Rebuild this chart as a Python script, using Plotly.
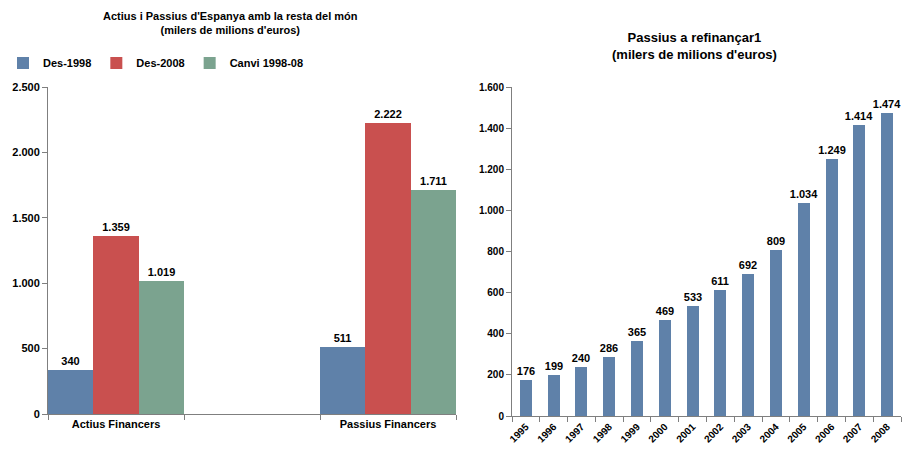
import plotly.graph_objects as go

# ---- Data ----
left_categories = ["Actius Financers", "Passius Financers"]
left_series_names = ["Des-1998", "Des-2008", "Canvi 1998-08"]
des_1998 = [340, 511]
des_2008 = [1359, 2222]
canvi_1998_08 = [1019, 1711]

years = ["1995", "1996", "1997", "1998", "1999", "2000", "2001",
         "2002", "2003", "2004", "2005", "2006", "2007", "2008"]
passius_refinancar = [176, 199, 240, 286, 365, 469, 533,
                      611, 692, 809, 1034, 1249, 1414, 1474]

left_title = "Actius i Passius d'Espanya amb la resta del món<br>(milers de milions d'euros)"
right_title = "Passius a refinançar1<br>(milers de milions d'euros)"

# ---- Styles ----
FONT = "Liberation Sans, Arial, sans-serif"
colors = ["#5F81A9", "#C9504F", "#7BA38F"]
axis_color = "#7F7F7F"
label_font = dict(family=FONT, size=11, color="#000", weight="bold")

fig = go.Figure()

# left chart: categories at positions 0 and 2, leaving an empty slot between
left_x = [0, 2]
n_series = len(left_series_names)
for i, (name, vals, col) in enumerate(zip(left_series_names,
                                          [des_1998, des_2008, canvi_1998_08], colors)):
    fig.add_trace(go.Bar(
        x=left_x, y=vals, name=name, marker=dict(color=col, line=dict(width=0)),
        width=1 / n_series, offset=-0.5 + i / n_series,
        texttemplate="%{y:,}", textposition="outside", constraintext="none",
        textfont=label_font, outsidetextfont=label_font,
        cliponaxis=False, xaxis="x", yaxis="y", showlegend=True,
    ))

fig.add_trace(go.Bar(
    x=years, y=passius_refinancar, name="Passius a refinançar",
    marker=dict(color=colors[0], line=dict(width=0)), width=0.43,
    texttemplate="%{y:,}", textposition="outside", constraintext="none",
    textfont=label_font, outsidetextfont=label_font,
    cliponaxis=False, xaxis="x2", yaxis="y2", showlegend=False,
))

W, H = 903, 457
def px_x(p):
    return p / W
def px_y(p):
    return 1 - p / H

tickfont11 = dict(family=FONT, size=11, color="#000", weight="bold")
tickfont10 = dict(family=FONT, size=10, color="#000", weight="bold")

fig.update_layout(
    width=W, height=H,
    margin=dict(l=0, r=0, t=0, b=0),
    paper_bgcolor="white", plot_bgcolor="white",
    separators=",.",
    barmode="group", bargap=0, bargroupgap=0,
    font=dict(family=FONT, size=11, color="#000"),
    xaxis=dict(
        domain=[px_x(48), px_x(456)], range=[-0.5, 2.5], automargin=False,
        tickvals=left_x, ticktext=left_categories, ticks="",
        tickfont=tickfont11, showline=True, linecolor=axis_color, linewidth=1,
        showgrid=False, zeroline=False, anchor="y",
        minor=dict(tickvals=[-0.5, 0.5, 1.5, 2.5], ticks="outside", ticklen=5,
                   tickcolor=axis_color, showgrid=False),
    ),
    yaxis=dict(
        domain=[px_y(414), px_y(87)], range=[0, 2500], dtick=500, automargin=False,
        tickformat=",", ticks="outside", ticklen=5, tickcolor=axis_color,
        tickfont=tickfont11, showline=True, linecolor=axis_color, linewidth=1,
        showgrid=False, zeroline=False, anchor="x",
    ),
    xaxis2=dict(
        domain=[px_x(512), px_x(901)], range=[-0.5, 13.5], type="category",
        automargin=False,
        tickson="boundaries", ticks="outside", ticklen=5, tickcolor=axis_color,
        tickangle=-45, tickfont=tickfont10, showline=True, linecolor=axis_color,
        linewidth=1, showgrid=False, zeroline=False, anchor="y2",
    ),
    yaxis2=dict(
        domain=[px_y(416), px_y(87)], range=[0, 1600], dtick=200, automargin=False,
        tickformat=",", ticks="outside", ticklen=5, tickcolor=axis_color,
        tickfont=tickfont10, showline=True, linecolor=axis_color, linewidth=1,
        showgrid=False, zeroline=False, anchor="x2",
    ),
    legend=dict(
        orientation="h", x=px_x(3), y=px_y(63), xanchor="left", yanchor="middle",
        font=dict(family=FONT, size=11, color="#000", weight="bold"),
        bgcolor="rgba(0,0,0,0)", itemwidth=30,
        itemclick=False, traceorder="normal",
    ),
    annotations=[
        dict(text=left_title, x=px_x(230), y=px_y(23), xref="paper", yref="paper",
             xanchor="center", yanchor="middle", showarrow=False,
             font=dict(family=FONT, size=11, color="#000", weight="bold")),
        dict(text=right_title, x=px_x(694), y=px_y(46), xref="paper", yref="paper",
             xanchor="center", yanchor="middle", showarrow=False,
             font=dict(family=FONT, size=13, color="#000", weight="bold")),
    ],
)

fig.write_html(
    "out.html",
    config={"displayModeBar": False},
    post_script=("document.documentElement.style.margin='0';"
                 "document.documentElement.style.overflow='hidden';"
                 "document.body.style.margin='0';document.body.style.padding='0';"
                 "document.body.style.overflow='hidden';"),
)
